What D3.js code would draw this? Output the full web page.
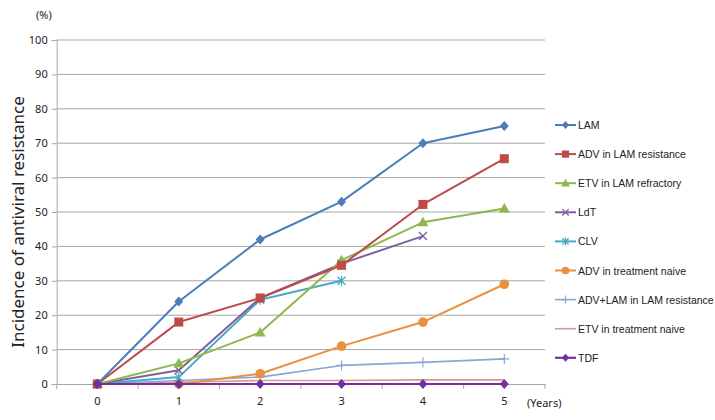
<!DOCTYPE html>
<html><head><meta charset="utf-8">
<script src="https://cdn.jsdelivr.net/npm/d3@7"></script>
<style>body{margin:0;background:#fff}svg{display:block}text{font-family:"Noto Sans","DejaVu Sans",sans-serif;fill:#222}</style>
</head><body><svg id="c" width="715" height="420"></svg>
<script>
const years = ["0","1","2","3","4","5"];
const yTicks = [0,10,20,30,40,50,60,70,80,90,100];
const seriesNames = ["LAM","ADV in LAM resistance","ETV in LAM refractory","LdT","CLV","ADV in treatment naive","ADV+LAM in LAM resistance","ETV in treatment naive","TDF"];
const LAM = [0,24,42,53,70,75];
const ADV_LAMres = [0,18,25,34.5,52.2,65.5];
const ETV_LAMref = [0,6,15,36,47,51];
const LdT = [0,4,25,35,43,null];
const CLV = [0,2,24.5,30,null,null];
const ADV_naive = [0,0,3,11,18,29];
const ADVLAM_LAMres = [0,1,2,5.4,6.3,7.3];
const ETV_naive = [0,0.5,1,1,1.2,1.2];
const TDF = [0,0,0,0,0,0];
const allValues = [LAM,ADV_LAMres,ETV_LAMref,LdT,CLV,ADV_naive,ADVLAM_LAMres,ETV_naive,TDF];
const colors = ["#4a7ebb","#be4b48","#8fb84c","#7d60a0","#46aac5","#e8913f","#8da5d4","#d99694","#7030a0"];
const markers = ["diamond","square","triangle","x","asterisk","circle","plus","none","diamond"];
const widths = [2,2,2,2,2,2,1.6,1.6,2.2];

const svg = d3.select("#c");
const pLeft=56.7, pRight=545, pTop=40, pBottom=384;
const x = d3.scaleBand().domain(years).range([pLeft,pRight]);
const y = d3.scaleLinear().domain([0,100]).range([pBottom,pTop]);

// gridlines
svg.append("g").selectAll("line").data(yTicks.filter(d=>d>0)).join("line")
  .attr("x1",pLeft).attr("x2",pRight).attr("y1",d=>y(d)).attr("y2",d=>y(d))
  .attr("stroke","#a6a6a6").attr("stroke-width",1);

// y axis
const ya = svg.append("g").attr("transform",`translate(${pLeft},0)`)
  .call(d3.axisLeft(y).tickValues(yTicks).tickSize(5).tickPadding(4));
ya.select(".domain").attr("stroke","#a6a6a6");
ya.selectAll(".tick line").attr("stroke","#a6a6a6");
ya.selectAll("text").attr("font-size",11).style("font-family","'Noto Sans',sans-serif").attr("fill","#222");

// x axis
const xa = svg.append("g").attr("transform",`translate(0,${pBottom})`)
  .call(d3.axisBottom(x).tickSize(0).tickPadding(13));
xa.select(".domain").attr("stroke","#a6a6a6");
xa.selectAll("text").attr("font-size",11).style("font-family","'Noto Sans',sans-serif").attr("fill","#222");
svg.append("g").selectAll("line").data(d3.range(years.length+1)).join("line")
  .attr("x1",i=>pLeft+i*x.step()).attr("x2",i=>pLeft+i*x.step())
  .attr("y1",pBottom).attr("y2",pBottom+5).attr("stroke","#a6a6a6");

svg.append("text").attr("x",527).attr("y",407).attr("font-size",11).text("(Years)");
svg.append("text").attr("x",36).attr("y",19).attr("font-size",11).text("(%)");
svg.append("text").attr("transform","translate(24,222) rotate(-90)").attr("text-anchor","middle")
  .attr("font-size",17).text("Incidence of antiviral resistance");

function drawMarker(g, type, cx, cy, color, size){
  const s=size||1;
  if(type==="diamond"){g.append("path").attr("d",`M${cx},${cy-5*s}L${cx+4.5*s},${cy}L${cx},${cy+5*s}L${cx-4.5*s},${cy}Z`).attr("fill",color);}
  else if(type==="square"){g.append("rect").attr("x",cx-4.5*s).attr("y",cy-4.5*s).attr("width",9*s).attr("height",9*s).attr("fill",color);}
  else if(type==="triangle"){g.append("path").attr("d",`M${cx},${cy-5.5*s}L${cx+5.5*s},${cy+4*s}L${cx-5.5*s},${cy+4*s}Z`).attr("fill",color);}
  else if(type==="circle"){g.append("circle").attr("cx",cx).attr("cy",cy).attr("r",4.8*s).attr("fill",color);}
  else if(type==="x"){g.append("path").attr("d",`M${cx-4*s},${cy-4*s}L${cx+4*s},${cy+4*s}M${cx-4*s},${cy+4*s}L${cx+4*s},${cy-4*s}`).attr("stroke",color).attr("stroke-width",1.3);}
  else if(type==="asterisk"){g.append("path").attr("d",`M${cx-4*s},${cy-4*s}L${cx+4*s},${cy+4*s}M${cx-4*s},${cy+4*s}L${cx+4*s},${cy-4*s}M${cx},${cy-5*s}L${cx},${cy+5*s}`).attr("stroke",color).attr("stroke-width",1.3);}
  else if(type==="plus"){g.append("path").attr("d",`M${cx-5*s},${cy}L${cx+5*s},${cy}M${cx},${cy-5*s}L${cx},${cy+5*s}`).attr("stroke",color).attr("stroke-width",1.2);}
}

const line = d3.line().defined(d=>d.v!==null).x(d=>x(d.k)+x.bandwidth()/2).y(d=>y(d.v));
const order = [7,6,5,4,3,2,1,0,8];
order.forEach(i=>{
  const pts = years.map((k,j)=>({k,v:allValues[i][j]}));
  const g = svg.append("g");
  g.append("path").datum(pts).attr("d",line).attr("fill","none").attr("stroke",colors[i]).attr("stroke-width",widths[i]).attr("stroke-linejoin","round");
  pts.filter(p=>p.v!==null).forEach(p=>drawMarker(g,markers[i],x(p.k)+x.bandwidth()/2,y(p.v),colors[i]));
});

// legend
const lg = svg.append("g");
seriesNames.forEach((n,i)=>{
  const ly = 125 + i*29.1;
  lg.append("line").attr("x1",555).attr("x2",576).attr("y1",ly).attr("y2",ly).attr("stroke",colors[i]).attr("stroke-width",widths[i]);
  drawMarker(lg,markers[i],565.5,ly,colors[i],0.8);
  lg.append("text").attr("x",578).attr("y",ly+4).attr("font-size",10.5).style("font-family","'Liberation Sans',Arial,sans-serif").text(n);
});
</script></body></html>
